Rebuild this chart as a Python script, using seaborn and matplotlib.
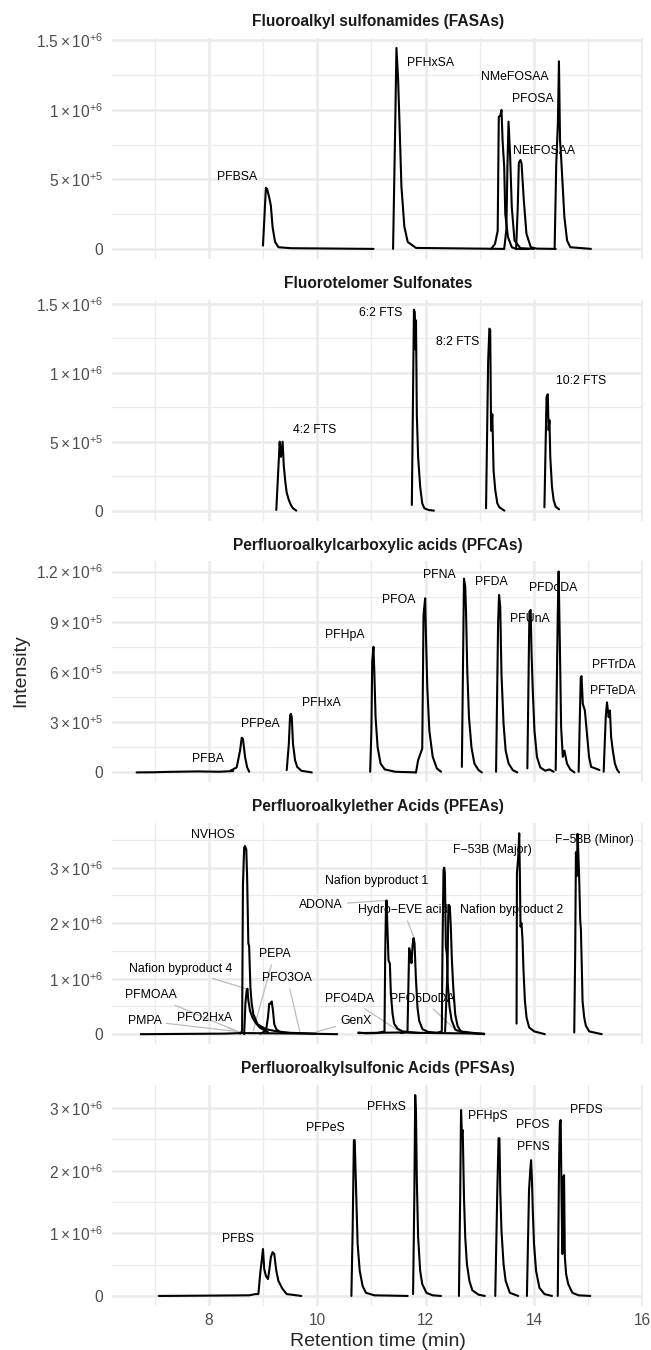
import matplotlib
matplotlib.use("Agg")
import matplotlib.pyplot as plt
import seaborn as sns
import pandas as pd
from matplotlib.ticker import FixedLocator, FixedFormatter

# retention time in minutes, intensity in units of 1e5 counts
SCALE = 1e5

fasa = {
    "PFBSA": ([9.0, 9.054, 9.077, 9.115, 9.146, 9.177, 9.223, 9.285, 9.515, 11.04],
              [0.24, 4.4, 4.3, 3.7, 3.1, 1.57, 0.5, 0.12, 0.05, 0]),
    "PFHxSA": ([11.4, 11.44, 11.462, 11.492, 11.515, 11.554, 11.608, 11.67, 11.823, 13.45],
               [0, 9.0, 14.46, 12.3, 9.5, 4.5, 1.6, 0.5, 0.07, 0]),
    "NMeFOSAA": ([13.21, 13.28, 13.33, 13.35, 13.38, 13.40, 13.42, 13.45, 13.47, 13.52, 13.59, 13.67, 13.9],
                 [0, 0.36, 1.3, 9.5, 9.6, 10.0, 7.8, 5.9, 2.5, 0.84, 0.12, 0, 0]),
    "NMeFOSAA 2": ([13.45, 13.49, 13.51, 13.53, 13.56, 13.59, 13.64, 13.75, 14.0],
                   [0, 1.4, 6.0, 9.16, 6.6, 3.0, 0.6, 0.05, 0]),
    "NEtFOSAA": ([13.67, 13.70, 13.72, 13.75, 13.77, 13.81, 13.86, 13.94, 14.05, 14.4],
                 [0, 3.0, 6.2, 6.4, 6.15, 3.6, 1.1, 0.12, 0.02, 0]),
    "PFOSA": ([14.38, 14.41, 14.44, 14.46, 14.48, 14.50, 14.53, 14.56, 14.61, 14.67, 15.05],
              [0, 6.1, 9.0, 13.5, 7.8, 6.6, 4.45, 2.3, 0.6, 0.12, 0]),
}

fts = {
    "4:2 FTS": ([9.246, 9.308, 9.331, 9.362, 9.385, 9.415, 9.438, 9.477, 9.515, 9.554, 9.615],
                [0.05, 5.0, 3.9, 5.0, 3.2, 2.0, 1.3, 0.77, 0.41, 0.17, 0]),
    "6:2 FTS": ([11.746, 11.785, 11.8, 11.815, 11.823, 11.838, 11.862, 11.9, 11.938, 11.977, 12.054, 12.154],
                [0.41, 14.57, 14.4, 11.7, 13.8, 7.0, 3.9, 1.74, 0.53, 0.17, 0.05, 0]),
    "8:2 FTS": ([13.115, 13.154, 13.177, 13.192, 13.208, 13.231, 13.254, 13.285, 13.323, 13.362, 13.454],
                [0.17, 10.9, 13.2, 13.1, 5.8, 7.0, 2.9, 1.5, 0.53, 0.24, 0]),
    "10:2 FTS": ([14.192, 14.231, 14.254, 14.269, 14.285, 14.3, 14.331, 14.362, 14.4, 14.462],
                 [0.24, 8.25, 8.44, 5.84, 6.56, 3.9, 1.74, 0.77, 0.29, 0.1]),
}

pfca = {
    "PFBA": ([6.669, 7.0, 7.208, 7.4, 7.592, 7.8, 7.977, 8.2, 8.45],
             [0, 0.01, 0.03, 0.04, 0.05, 0.06, 0.05, 0.04, 0.08]),
    "PFPeA": ([8.4, 8.515, 8.577, 8.608, 8.631, 8.669, 8.708, 8.746],
              [0.1, 0.3, 1.3, 2.07, 2.0, 0.93, 0.3, 0.04]),
    "PFHxA": ([9.438, 9.477, 9.5, 9.515, 9.531, 9.554, 9.592, 9.631, 9.708, 9.9],
              [0.14, 1.7, 3.4, 3.5, 3.3, 1.7, 0.73, 0.33, 0.1, 0]),
    "PFHpA": ([10.977, 11.0, 11.015, 11.038, 11.054, 11.077, 11.115, 11.169, 11.246, 11.438, 11.823],
              [0.04, 2.5, 6.6, 7.5, 6.0, 3.3, 1.5, 0.53, 0.18, 0.04, 0]),
    "PFOA": ([11.823, 11.862, 11.938, 11.962, 11.992, 12.008, 12.031, 12.069, 12.131, 12.208, 12.285],
             [0, 0.73, 1.42, 9.4, 10.4, 8.0, 5.1, 2.5, 0.93, 0.24, 0.04]),
    "PFNA": ([12.669, 12.708, 12.731, 12.746, 12.769, 12.8, 12.846, 12.9, 12.977, 13.038],
             [0.33, 11.57, 11.1, 9.6, 6.05, 3.3, 1.5, 0.53, 0.14, 0]),
    "PFDA": ([13.3, 13.338, 13.355, 13.377, 13.39, 13.4, 13.438, 13.477, 13.531, 13.608, 13.692],
             [0.04, 9.0, 10.6, 9.9, 7.5, 5.85, 2.9, 1.3, 0.53, 0.14, 0]),
    "PFUnA": ([13.877, 13.915, 13.938, 13.954, 13.977, 14.008, 14.054, 14.115, 14.208, 14.285, 14.362],
              [0.24, 9.6, 9.7, 7.2, 4.9, 2.5, 0.93, 0.3, 0.1, 0.18, 0.04]),
    "PFDoDA": ([14.4, 14.423, 14.438, 14.454, 14.477, 14.5, 14.531, 14.562, 14.608, 14.669, 14.746],
               [0.14, 5.85, 9.4, 12.0, 7.6, 2.7, 0.93, 1.3, 0.53, 0.18, 0]),
    "PFTrDA": ([14.823, 14.862, 14.877, 14.9, 14.938, 14.977, 15.015, 15.054, 15.131, 15.208],
               [0.04, 5.65, 5.75, 4.1, 3.7, 2.3, 0.93, 0.33, 0.24, 0.14]),
    "PFTeDA": ([15.285, 15.323, 15.346, 15.377, 15.4, 15.423, 15.454, 15.492, 15.531, 15.569],
               [0.04, 3.3, 4.18, 3.3, 3.7, 2.1, 1.3, 0.53, 0.18, 0]),
}

pfea = {
    "PMPA": ([6.747, 7.5, 8.3, 8.6, 9.2, 9.8, 10.37],
             [0, 0.05, 0.1, 0.2, 0.15, 0.1, 0]),
    "NVHOS": ([8.58, 8.615, 8.63, 8.653, 8.668, 8.692, 8.707, 8.73, 8.745, 8.768, 8.792, 8.823, 8.899, 9.053, 9.207, 9.5],
              [0.1, 0.6, 26.7, 33.6, 33.9, 33.3, 28.5, 16.4, 15.8, 8.5, 5.5, 3.6, 1.8, 0.9, 0.6, 0.2]),
    "Nafion byproduct 4": ([8.653, 8.676, 8.699, 8.714, 8.73, 8.761, 8.807, 8.861, 8.938, 9.1],
                           [0, 5.5, 7.9, 8.2, 6.1, 4.2, 3.0, 2.1, 1.2, 0.3]),
    "PFO2HxA": ([8.95, 9.054, 9.092, 9.115, 9.138, 9.162, 9.185, 9.208, 9.246, 9.323, 9.98],
                [0.1, 0.6, 3.0, 5.5, 5.5, 5.9, 4.2, 1.8, 0.9, 0.3, 0.1]),
    "ADONA": ([10.76, 10.9, 11.1, 11.242, 11.255, 11.267, 11.279, 11.297, 11.316, 11.341, 11.359, 11.39, 11.42, 11.48, 11.574, 11.9],
              [0.3, 0.15, 0.2, 0.5, 14.5, 21.8, 24.1, 18.8, 13.3, 12.7, 7.3, 3.7, 1.9, 1.0, 0.5, 0.2]),
    "PFO4DA": ([10.76, 11.5, 12.2, 13.08],
               [0.2, 0.3, 0.2, 0.1]),
    "Hydro-EVE acid": ([11.55, 11.666, 11.697, 11.72, 11.74, 11.76, 11.777, 11.796, 11.82, 11.85, 11.882, 11.943, 12.05, 12.3],
                       [0.2, 0.5, 15.5, 14.5, 12.8, 16.0, 17.3, 16.4, 10.3, 4.8, 2.4, 0.9, 0.4, 0.2]),
    "Nafion byproduct 1": ([12.2, 12.299, 12.312, 12.33, 12.343, 12.355, 12.374, 12.392, 12.41, 12.44, 12.48, 12.55, 12.7, 13.08],
                           [0.2, 0.5, 15.7, 29.5, 30.0, 29.1, 15.7, 14.5, 9.0, 5.0, 2.5, 0.8, 0.3, 0]),
    "Nafion byproduct 2": ([12.36, 12.405, 12.417, 12.43, 12.448, 12.467, 12.485, 12.51, 12.546, 12.589, 12.651, 12.9, 13.08],
                           [0.5, 12.0, 21.2, 23.3, 23.0, 18.8, 13.3, 8.5, 3.6, 1.5, 0.5, 0.2, 0]),
    "F-53B (Major)": ([13.678, 13.685, 13.709, 13.727, 13.739, 13.751, 13.769, 13.788, 13.806, 13.832, 13.862, 13.911, 14.004, 14.2],
                      [1.9, 29.0, 32.0, 36.2, 29.0, 19.4, 20.0, 17.0, 11.5, 6.0, 3.0, 1.2, 0.5, 0]),
    "F-53B (Minor)": ([14.742, 14.76, 14.773, 14.791, 14.803, 14.815, 14.834, 14.852, 14.865, 14.883, 14.895, 14.926, 14.957, 15.019, 15.25],
                      [0.3, 15.0, 32.8, 28.5, 36.1, 33.3, 27.9, 20.6, 18.8, 11.5, 6.0, 3.0, 1.5, 0.5, 0]),
}

pfsa = {
    "PFBS": ([7.077, 7.977, 8.746, 8.862, 8.915, 8.954, 8.977, 9.0, 9.023, 9.054, 9.092, 9.115, 9.146, 9.177, 9.208, 9.246, 9.285, 9.362, 9.438, 9.708],
             [0, 0.05, 0.1, 0.3, 0.3, 4.0, 5.6, 7.5, 4.3, 3.2, 2.7, 4.0, 6.2, 7.0, 6.7, 4.0, 2.4, 1.1, 0.3, 0]),
    "PFPeS": ([10.631, 10.654, 10.677, 10.692, 10.708, 10.723, 10.746, 10.785, 10.838, 10.9, 11.054, 11.669],
              [0, 10.4, 24.9, 24.9, 20.0, 15.3, 8.3, 4.0, 1.6, 0.5, 0.1, 0]),
    "PFHxS": ([11.769, 11.792, 11.808, 11.823, 11.838, 11.862, 11.9, 11.938, 12.015, 12.131, 12.285],
              [0.3, 15.8, 32.1, 29.2, 18.5, 9.4, 4.0, 1.9, 0.5, 0.1, 0]),
    "PFHpS": ([12.615, 12.638, 12.654, 12.669, 12.685, 12.708, 12.731, 12.762, 12.808, 12.862, 12.977, 13.092],
              [0, 15.8, 29.7, 26.0, 26.5, 15.8, 9.4, 5.1, 2.4, 0.9, 0.2, 0]),
    "PFOS": ([13.285, 13.323, 13.346, 13.362, 13.377, 13.4, 13.438, 13.477, 13.554, 13.708],
             [0, 16.9, 25.2, 25.2, 16.9, 10.4, 5.1, 2.4, 0.5, 0]),
    "PFNS": ([13.869, 13.908, 13.931, 13.946, 13.962, 13.977, 14.0, 14.038, 14.1, 14.192, 14.331],
             [0, 16.9, 20.1, 21.7, 18.5, 13.7, 8.3, 4.0, 1.3, 0.3, 0]),
    "PFDS": ([14.438, 14.462, 14.477, 14.492, 14.508, 14.523, 14.538, 14.554, 14.569, 14.592, 14.631, 14.708, 14.823, 15.038],
             [0, 21.2, 27.6, 28.1, 15.8, 6.7, 19.0, 19.3, 6.2, 3.5, 1.9, 0.5, 0.1, 0]),
}

# label text, label rt, label intensity (1e5), optional point the leader line goes to
fasa_labels = [("PFBSA", 8.52, 5.18), ("PFHxSA", 12.09, 13.4), ("NMeFOSAA", 13.65, 12.4),
               ("PFOSA", 13.98, 10.8), ("NEtFOSAA", 14.18, 7.06)]
fts_labels = [("4:2 FTS", 9.95, 5.84), ("6:2 FTS", 11.18, 14.3), ("8:2 FTS", 12.59, 12.2),
              ("10:2 FTS", 14.86, 9.38)]
pfca_labels = [("PFBA", 7.98, 0.83), ("PFPeA", 8.95, 2.9), ("PFHxA", 10.07, 4.12), ("PFHpA", 10.5, 8.2),
               ("PFOA", 11.5, 10.3), ("PFNA", 12.25, 11.8), ("PFDA", 13.22, 11.4), ("PFUnA", 13.92, 9.16),
               ("PFDoDA", 14.36, 11.0), ("PFTrDA", 15.48, 6.44), ("PFTeDA", 15.46, 4.87)]
pfea_labels = [("NVHOS", 8.07, 35.9), ("F\u221253B (Major)", 13.23, 33.2), ("F\u221253B (Minor)", 15.11, 35.0),
               ("Nafion byproduct 1", 11.09, 27.6), ("ADONA", 10.07, 23.3, 11.27, 24.1),
               ("Hydro\u2212EVE acid", 11.59, 22.3, 11.79, 17.3), ("Nafion byproduct 2", 13.585, 22.4),
               ("PEPA", 9.21, 14.4, 8.82, 0.6), ("Nafion byproduct 4", 7.485, 11.8, 8.69, 8.2),
               ("PFO3OA", 9.45, 10.1, 9.68, 0.4), ("PFMOAA", 6.94, 7.0, 8.58, 0.3),
               ("PFO4DA", 10.59, 6.4, 11.55, 0.3), ("PFO5DoDA", 11.94, 6.4, 12.6, 0.3),
               ("PMPA", 6.82, 2.4, 8.5, 0.5), ("PFO2HxA", 7.915, 2.9, 8.58, 0.3), ("GenX", 10.71, 2.4, 9.98, 0.4)]
pfsa_labels = [("PFBS", 8.54, 9.1), ("PFPeS", 10.15, 26.9), ("PFHxS", 11.28, 30.2), ("PFHpS", 13.14, 28.8),
               ("PFOS", 13.98, 27.3), ("PFNS", 13.99, 23.8), ("PFDS", 14.97, 29.7)]

titles = ["Fluoroalkyl sulfonamides (FASAs)", "Fluorotelomer Sulfonates",
          "Perfluoroalkylcarboxylic acids (PFCAs)", "Perfluoroalkylether Acids (PFEAs)",
          "Perfluoroalkylsulfonic Acids (PFSAs)"]

yticks = [[0, 5e5, 1e6, 1.5e6], [0, 5e5, 1e6, 1.5e6], [0, 3e5, 6e5, 9e5, 1.2e6],
          [0, 1e6, 2e6, 3e6], [0, 1e6, 2e6, 3e6]]
yticklabels = [["0", r"5\times10^{+5}", r"1\times10^{+6}", r"1.5\times10^{+6}"],
               ["0", r"5\times10^{+5}", r"1\times10^{+6}", r"1.5\times10^{+6}"],
               ["0", r"3\times10^{+5}", r"6\times10^{+5}", r"9\times10^{+5}", r"1.2\times10^{+6}"],
               ["0", r"1\times10^{+6}", r"2\times10^{+6}", r"3\times10^{+6}"],
               ["0", r"1\times10^{+6}", r"2\times10^{+6}", r"3\times10^{+6}"]]
xticks = [8, 10, 12, 14, 16]
xminor = [7, 9, 11, 13, 15]

panels = [fasa, fts, pfca, pfea, pfsa]
labels = [fasa_labels, fts_labels, pfca_labels, pfea_labels, pfsa_labels]

rows = []
for p, traces in enumerate(panels):
    for name, (rt, val) in traces.items():
        for t, v in zip(rt, val):
            rows.append({"panel": p, "compound": name, "rt": t, "intensity": v * SCALE})
df = pd.DataFrame(rows)

sns.set_style("white")
plt.rcParams["font.family"] = ["Liberation Sans", "DejaVu Sans"]
plt.rcParams["mathtext.fontset"] = "custom"
plt.rcParams["mathtext.rm"] = "Liberation Sans"
plt.rcParams["mathtext.it"] = "Liberation Sans:italic"
plt.rcParams["mathtext.bf"] = "Liberation Sans:bold"

fig, axes = plt.subplots(5, 1, figsize=(6.51, 13.5), dpi=100, sharex=True)
fig.subplots_adjust(left=0.1728, right=0.988, top=0.9719, bottom=0.0326, hspace=0.1844)

xmin, xmax = df["rt"].min(), df["rt"].max()
xpad = 0.05 * (xmax - xmin)

for p, ax in enumerate(axes):
    sub = df[df["panel"] == p]
    sns.lineplot(data=sub, x="rt", y="intensity", units="compound", estimator=None,
                 color="black", linewidth=1.5, ax=ax, legend=False, zorder=3)
    ymax = sub["intensity"].max()
    ax.set_ylim(-0.05 * ymax, 1.05 * ymax)
    ax.set_xlim(xmin - xpad, xmax + xpad)
    ax.set(xlabel="", ylabel="")

    ticks = yticks[p]
    step = ticks[1] - ticks[0]
    ax.yaxis.set_major_locator(FixedLocator(ticks))
    ax.yaxis.set_major_formatter(FixedFormatter(
        [lab if lab == "0" else r"$\mathregular{" + lab + "}$" for lab in yticklabels[p]]))
    ax.yaxis.set_minor_locator(FixedLocator([t + step / 2 for t in ticks]))
    ax.xaxis.set_major_locator(FixedLocator(xticks))
    ax.xaxis.set_minor_locator(FixedLocator(xminor))

    ax.grid(which="major", color="#EBEBEB", linewidth=1.8)
    ax.grid(which="minor", color="#EBEBEB", linewidth=0.9)
    ax.set_axisbelow(True)
    for s in ax.spines.values():
        s.set_visible(False)
    ax.tick_params(which="both", length=0, labelsize=11.2, labelcolor="#4D4D4D")
    ax.tick_params(axis="y", pad=7)
    ax.tick_params(axis="x", pad=5)
    ax.set_title(titles[p], fontsize=11.2, fontweight="bold", color="#1A1A1A", pad=8.5)

    for lab in labels[p]:
        if len(lab) == 5:
            ax.annotate(lab[0], xy=(lab[3], lab[4] * SCALE), xytext=(lab[1], lab[2] * SCALE),
                        ha="center", va="center", fontsize=8.8, color="black", zorder=1,
                        arrowprops=dict(arrowstyle="-", color="#BDBDBD", lw=0.9,
                                        shrinkA=1, shrinkB=0))
        else:
            ax.text(lab[1], lab[2] * SCALE, lab[0], ha="center", va="center",
                    fontsize=8.8, color="black", zorder=1)

fig.text(0.032, 0.503, "Intensity", rotation=90, ha="center", va="center", fontsize=14)
fig.text(0.580, 0.003, "Retention time (min)", ha="center", va="baseline", fontsize=14)

fig.savefig("out.png", dpi=100, facecolor="white")
